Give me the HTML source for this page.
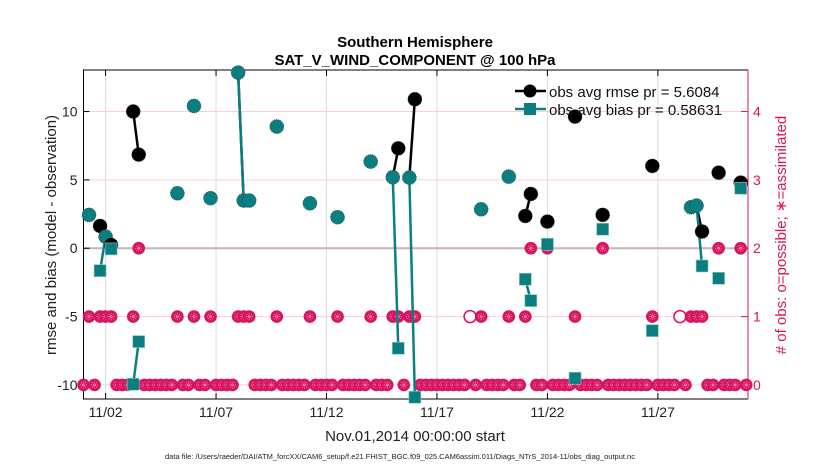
<!DOCTYPE html>
<html><head><meta charset="utf-8"><style>
body{margin:0;background:#fff;}
svg{display:block;font-family:"Liberation Sans",sans-serif;}
</style></head><body>
<svg id="chart" width="830" height="470" viewBox="0 0 830 470">
<rect width="830" height="470" fill="#fff"/>
<g id="grid"></g>
<g id="axes"></g>
<g id="marks"></g>
<text x="415" y="47" text-anchor="middle" font-size="15" font-weight="bold">Southern Hemisphere</text>
<text x="415" y="65" text-anchor="middle" font-size="15" font-weight="bold">SAT_V_WIND_COMPONENT @ 100 hPa</text>
<text x="415" y="441" text-anchor="middle" font-size="15" fill="#222">Nov.01,2014 00:00:00 start</text>
<text x="400" y="459" text-anchor="middle" font-size="7.5" fill="#222">data file: /Users/raeder/DAI/ATM_forcXX/CAM6_setup/f.e21.FHIST_BGC.f09_025.CAM6assim.011/Diags_NTrS_2014-11/obs_diag_output.nc</text>
<text transform="translate(56,235) rotate(-90)" text-anchor="middle" font-size="15" fill="#222">rmse and bias (model - observation)</text>
<text transform="translate(786,235) rotate(-90)" text-anchor="middle" font-size="15" fill="#d6145f"># of obs: o=possible; ∗=assimilated</text>
<g id="legend">
<line x1="515" y1="91" x2="546" y2="91" stroke="#000" stroke-width="2.5"/>
<circle cx="530" cy="91" r="6.5" fill="#000"/>
<text x="549" y="97" font-size="15" fill="#111">obs avg rmse pr = 5.6084</text>
<line x1="515" y1="109" x2="546" y2="109" stroke="#0b7f80" stroke-width="2.5"/>
<rect x="524" y="103" width="12" height="12" fill="#0b7f80"/>
<text x="549" y="115" font-size="15" fill="#111">obs avg bias pr = 0.58631</text>
</g>
</svg>
<script>
const xTickDays = [1, 6, 11, 16, 21, 26];
const xTickLabels = ["11/02", "11/07", "11/12", "11/17", "11/22", "11/27"];
const yTicks = [-10, -5, 0, 5, 10];
const countTicks = [0, 1, 2, 3, 4];
const slotStart = 0, slotStep = 0.25, slotCount = 121;
const count1Days = [0.25,0.75,1.0,1.25,2.25,4.25,5.0,5.75,7.0,7.25,7.5,8.75,10.25,11.5,13.0,14.0,14.25,14.75,15.0,18.0,19.25,20.0,22.25,25.75,27.5,27.75,28.0];
const count2Days = [2.5,20.25,21.0,23.5,28.75,29.75];
const possibleOnlyDays = [17.5, 27.0];
const statDays = [0.25,0.75,1.0,1.25,2.25,2.5,4.25,5.0,5.75,7.0,7.25,7.5,8.75,10.25,11.5,13.0,14.0,14.25,14.75,15.0,18.0,19.25,20.0,20.25,21.0,22.25,23.5,25.75,27.5,27.75,28.0,28.75,29.75];
const rmseValues = [2.44,1.63,0.85,0.24,10.0,6.85,4.02,10.41,3.66,12.85,3.49,3.49,8.9,3.29,2.27,6.34,5.19,7.31,5.17,10.9,2.85,5.24,2.36,3.97,1.95,9.63,2.44,6.02,3.0,3.12,1.22,5.53,4.8];
const biasValues = [2.44,-1.64,0.85,-0.05,-9.95,-6.83,4.02,10.41,3.66,12.85,3.49,3.49,8.9,3.29,2.27,6.34,5.19,-7.32,5.17,-10.9,2.85,5.24,-2.27,-3.83,0.29,-9.51,1.39,-6.03,3.0,3.12,-1.3,-2.2,4.39];

const L=83.5, R=748, T=70, B=399;
const xMin=0, xMax=30.08, yMin=-11.03, yMax=13.04;
const xs = d => L + (d - xMin) / (xMax - xMin) * (R - L);
const ys = v => B - (v - yMin) / (yMax - yMin) * (B - T);
const cy = c => ys(c * 5 - 10);
const NS="http://www.w3.org/2000/svg";
function mk(tag, attrs, parent){const e=document.createElementNS(NS,tag);for(const k in attrs)e.setAttribute(k,attrs[k]);parent.appendChild(e);return e;}
const grid=document.getElementById('grid'), axes=document.getElementById('axes'), marks=document.getElementById('marks');
const RED="#d6145f", TEAL="#0b7f80";

xTickDays.forEach((d,i)=>{
  const g=mk('line',{x1:xs(d),x2:xs(d),y1:T,y2:B,stroke:"#dcdcdc","stroke-width":1},grid);
  
  
  mk('line',{x1:xs(d),x2:xs(d),y1:B,y2:B-6,stroke:"#000"},axes);
  mk('line',{x1:xs(d),x2:xs(d),y1:T,y2:T+6,stroke:"#000"},axes);
  const t=mk('text',{x:xs(d),y:B+18,"text-anchor":"middle","font-size":14,fill:"#222"},axes);
  t.textContent=xTickLabels[i];
  
  
});
yTicks.forEach(v=>{
  const g=mk('line',{x1:L,x2:R,y1:ys(v),y2:ys(v),stroke:v===0?"#c9b4bb":"#f5d0dc","stroke-width":v===0?2:1},grid);
  
  
  mk('line',{x1:L,x2:L+6,y1:ys(v),y2:ys(v),stroke:"#000"},axes);
  const t=mk('text',{x:L-6,y:ys(v)+5,"text-anchor":"end","font-size":14,fill:"#222"},axes);
  t.textContent=v;
  
  
});
countTicks.forEach(c=>{
  mk('line',{x1:R-7,x2:R,y1:cy(c),y2:cy(c),stroke:RED},axes);
  const t=mk('text',{x:R+5,y:cy(c)+5,"font-size":14,fill:RED},axes);
  t.textContent=c;
  
  
});
mk('path',{d:`M${R},${T} L${L},${T} L${L},${B} L${R},${B}`,fill:"none",stroke:"#000","stroke-width":1},axes);
mk('line',{x1:R,x2:R,y1:T,y2:B,stroke:RED,"stroke-width":1},axes);

const has=(arr,d)=>arr.some(a=>Math.abs(a-d)<1e-6);
function countMarker(d,c,hollow){
  const x=xs(d), y=cy(c);
  const g=mk('g',{},marks);
  
  
  if(hollow){mk('circle',{cx:x,cy:y,r:6,fill:"#fff",stroke:RED,"stroke-width":1.5},g);return;}
  mk('circle',{cx:x,cy:y,r:6.3,fill:RED},g);
  for(let a=0;a<180;a+=45){const r=a*Math.PI/180;
    mk('line',{x1:x-3.5*Math.cos(r),y1:y-3.5*Math.sin(r),x2:x+3.5*Math.cos(r),y2:y+3.5*Math.sin(r),stroke:"#f39ab8","stroke-width":0.8,"stroke-dasharray":"1 1"},g);}
}
for(let i=0;i<slotCount;i++){
  const d=slotStart+i*slotStep;
  if(has(possibleOnlyDays,d)) countMarker(d,1,true);
  else if(has(count2Days,d)) countMarker(d,2,false);
  else if(has(count1Days,d)) countMarker(d,1,false);
  else countMarker(d,0,false);
}
function seriesLines(vals,color,name){
  for(let i=1;i<statDays.length;i++){
    if(Math.abs(statDays[i]-statDays[i-1]-slotStep)<1e-6){
      const l=mk('line',{x1:xs(statDays[i-1]),y1:ys(vals[i-1]),x2:xs(statDays[i]),y2:ys(vals[i]),stroke:color,"stroke-width":2.5},marks);
      
      
    }
  }
}
seriesLines(rmseValues,"#000",'rmse-line-segment');
seriesLines(biasValues,TEAL,'bias-line-segment');
statDays.forEach((d,i)=>{
  const same=Math.abs(rmseValues[i]-biasValues[i])<0.01;
  const c=mk('circle',{cx:xs(d),cy:ys(rmseValues[i]),r:7,fill:same?TEAL:"#000",stroke:"#333","stroke-width":0.6,"stroke-dasharray":"1 1"},marks);
  
  
  if(!same){
    const s=mk('rect',{x:xs(d)-6,y:ys(biasValues[i])-6,width:12,height:12,fill:TEAL,stroke:"#8fc9c9","stroke-width":0.6},marks);
    
    
  }
});
</script>
</body></html>
